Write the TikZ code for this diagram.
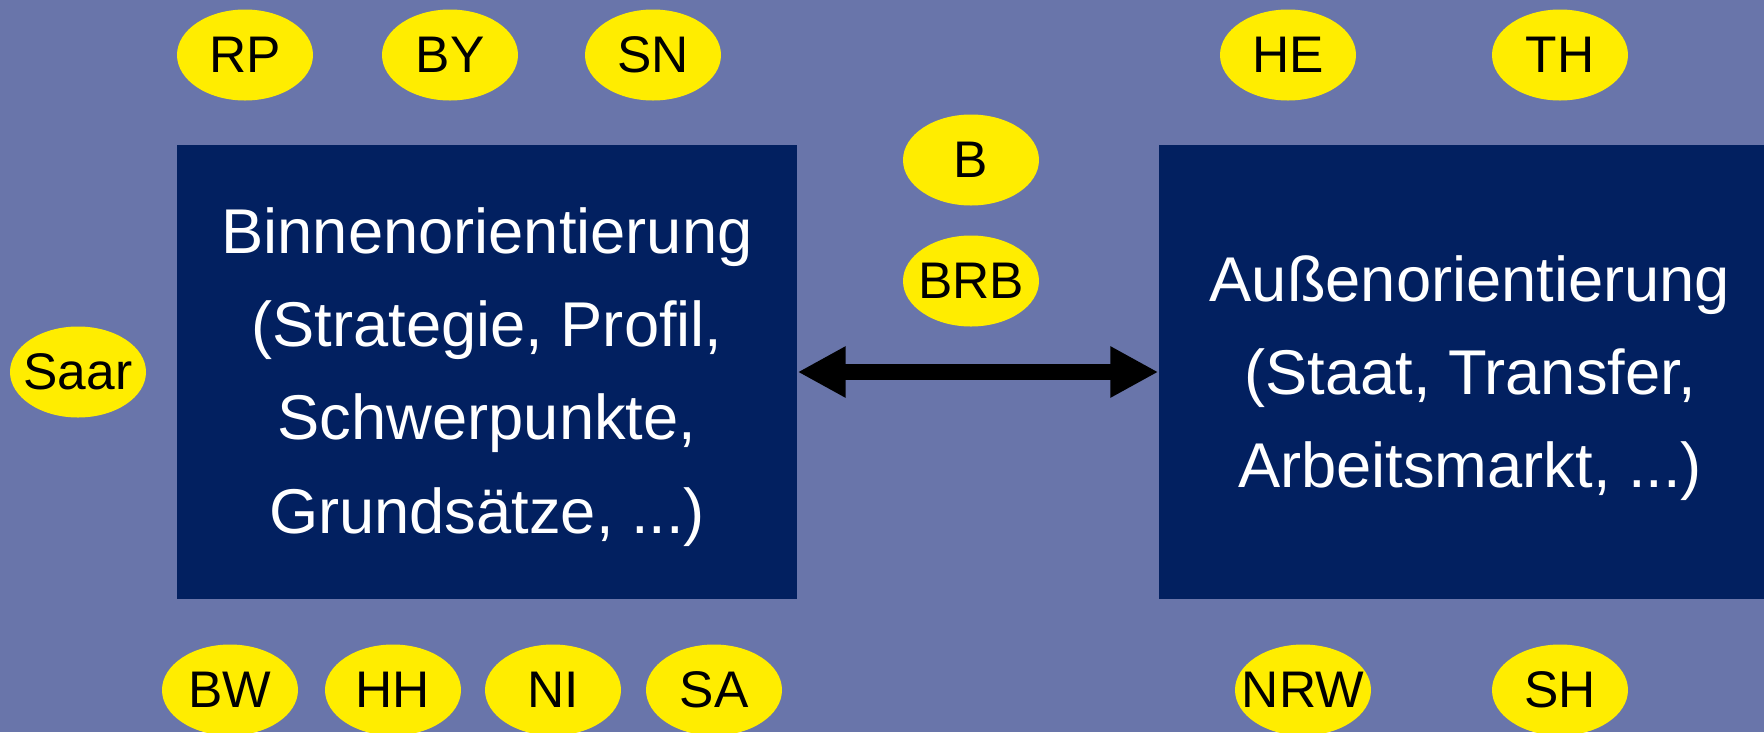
\documentclass[tikz,border=0pt]{standalone}
\usepackage{fontspec}
\setmainfont{Liberation Sans}
\usetikzlibrary{shapes.geometric,arrows.meta}
\definecolor{bg}{RGB}{105,117,170}
\definecolor{boxc}{RGB}{2,32,96}
\definecolor{yel}{RGB}{255,237,0}
\begin{document}
\begin{tikzpicture}[x=0.1mm,y=-0.1mm,
  stl/.style={font=\fontsize{14.65}{17}\selectfont, text=black, inner sep=0pt},
  st/.style={ellipse, fill=yel, draw=none, inner sep=0pt, minimum width=13.6mm, minimum height=9.1mm, label={[stl]center:#1}},
  bigbox/.style={rectangle, fill=boxc, draw=none, inner sep=0pt, minimum height=45.4mm},
  boxtext/.style={text=white, align=center, font=\fontsize{18}{26.5}\selectfont, inner sep=0pt},
  tip/.tip={Triangle[length=4.8mm,width=4.8mm]}]
\fill[bg] (0,0) rectangle (1764,732);
\useasboundingbox (0,0) rectangle (1764,732);
\clip (0,0) rectangle (1764,732);
% boxes
\node[bigbox, minimum width=62mm] (lbox) at (487,372) {};
\node[boxtext] (ltext) at (487,377) {Binnenorientierung\\(Strategie, Profil,\\Schwerpunkte,\\Grundsätze, ...)};
\node[bigbox, minimum width=62.2mm] (rbox) at (1470,372) {};
\node[boxtext] (rtext) at (1470,378) {Außenorientierung\\(Staat, Transfer,\\Arbeitsmarkt, ...)};
% arrow
\draw[line width=1.6mm, tip-tip] (lbox.east) -- (rbox.west);
% states
\node[st=RP] (rp) at (245,55) {};
\node[st=BY] (by) at (450,55) {};
\node[st=SN] (sn) at (653,55) {};
\node[st=HE] (he) at (1288,55) {};
\node[st=TH] (th) at (1560,55) {};
\node[st=B] (b) at (971,160) {};
\node[st=BRB] (brb) at (971,281) {};
\node[st=Saar] (saar) at (78,372) {};
\node[st=BW] (bw) at (230,690) {};
\node[st=HH] (hh) at (393,690) {};
\node[st=NI] (ni) at (553,690) {};
\node[st=SA] (sa) at (714,690) {};
\node[st=NRW] (nrw) at (1303,690) {};
\node[st=SH] (sh) at (1560,690) {};
\end{tikzpicture}
\end{document}
